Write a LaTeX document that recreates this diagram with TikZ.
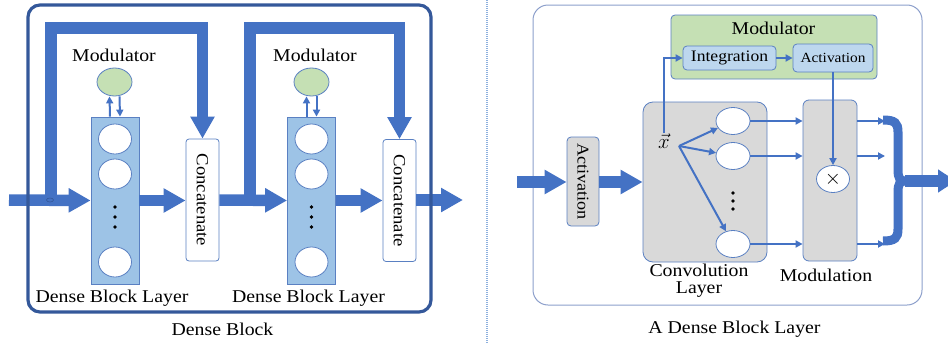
\documentclass[tikz,border=0pt]{standalone}
\usepackage{fontspec}
\setmainfont[FakeStretch=1.1]{Liberation Serif}
\usetikzlibrary{arrows.meta,shapes.geometric,calc}
\definecolor{mainblue}{HTML}{4472C4}
\definecolor{darkblue}{HTML}{34589A}
\definecolor{bdr}{HTML}{5A80C2}
\definecolor{lblue}{HTML}{9DC3E6}
\definecolor{mgreen}{HTML}{C5E0B4}
\definecolor{mgray}{HTML}{D9D9D9}
\definecolor{pblue}{HTML}{BDD7EE}
\definecolor{frametwo}{HTML}{8C9FCB}
\definecolor{divider}{HTML}{8DB0DE}
\begin{document}
\begin{tikzpicture}[x=1pt,y=-1pt,
  fat/.style={line width=11.5pt,draw=mainblue,line join=miter,-{Triangle[width=23pt,length=22pt]}},
  thinarr/.style={line width=2pt,draw=mainblue,-{Triangle[width=7pt,length=7pt]}},
  dbl/.style={rectangle,draw=bdr,fill=lblue,line width=0.8pt,minimum width=48pt,minimum height=167pt,inner sep=0pt},
  unit/.style={ellipse,draw=bdr,fill=white,line width=0.8pt,minimum width=33pt,minimum height=30pt,inner sep=0pt},
  cunit/.style={ellipse,draw=bdr,fill=white,line width=0.8pt,minimum width=34pt,minimum height=27pt,inner sep=0pt},
  modc/.style={ellipse,draw=bdr,fill=mgreen,line width=0.8pt,minimum width=35pt,minimum height=28pt,inner sep=0pt},
  concat/.style={rectangle,rounded corners=3pt,draw=bdr,fill=white,line width=0.8pt,minimum width=122pt,minimum height=33pt,inner sep=0pt,rotate=-90,font=\fontsize{17}{17}\selectfont},
  graybox/.style={rectangle,draw=bdr,fill=mgray,line width=0.8pt,inner sep=0pt},
  smallbox/.style={rectangle,rounded corners=4pt,draw=bdr,fill=pblue,line width=0.8pt,inner sep=0pt},
  lbl/.style={font=\fontsize{18}{18}\selectfont,inner sep=0pt,anchor=base}
]
\useasboundingbox (0,0) rectangle (948,343);
\clip (0,0) rectangle (948,343);

% ---------------- left panel ----------------
\coordinate (in1) at (9,200);
\coordinate (s1) at (51,200);
\coordinate (s2) at (250,200);
\coordinate (out1) at (463,200);

\node[dbl] (block1) at (115,200.5) {};
\node[unit] (b1u1) at (115,139) {};
\node[unit] (b1u2) at (115,174) {};
\node[unit] (b1u3) at (115,262) {};
\fill (115,207) circle (1.8) (115,217) circle (1.8) (115,227) circle (1.8);
\node[modc] (mod1) at (114.5,82) {};
\node[lbl] (mod1l) at (114,61) {Modulator};

\node[dbl] (block2) at (311.5,200.5) {};
\node[unit] (b2u1) at (311.5,139) {};
\node[unit] (b2u2) at (311.5,174) {};
\node[unit] (b2u3) at (311.5,262) {};
\fill (311.5,207) circle (1.8) (311.5,217) circle (1.8) (311.5,227) circle (1.8);
\node[modc] (mod2) at (311.5,82) {};
\node[lbl] (mod2l) at (315,61) {Modulator};

% rotated by -90: west = visual top, south = visual left, north = visual right
\node[concat] (concat1) at (202.5,200) {Concatenate};
\node[concat] (concat2) at (399.5,200.5) {Concatenate};

\draw[thinarr] ([xshift=-5pt]block1.north) -- ([xshift=-5pt]mod1.south);
\draw[thinarr] ([xshift=5pt]mod1.south) -- ([xshift=5pt]block1.north);
\draw[thinarr] ([xshift=-5pt]block2.north) -- ([xshift=-5pt]mod2.south);
\draw[thinarr] ([xshift=5pt]mod2.south) -- ([xshift=5pt]block2.north);

\draw[fat] (s1) -- (51,28) -- (202.5,28) -- (concat1.west);
\draw[fat] (s2) -- (250,28) -- (399.5,28) -- (concat2.west);

\draw[fat] (in1) -- (block1.west);
\draw[fat] (block1.east) -- (concat1.south |- block1.east);
\draw[fat] (concat1.north |- s2) -- (block2.west);
\draw[fat] (block2.east) -- (concat2.south |- block2.east);
\draw[fat] (concat2.north |- out1) -- (out1);

\node[ellipse,draw=darkblue,line width=0.6pt,minimum width=7pt,minimum height=4pt,inner sep=0pt] (junc) at (50,200) {};

\node[draw=darkblue,line width=3.2pt,rounded corners=12pt,minimum width=403pt,minimum height=307pt,inner sep=0pt] (frame1) at (229.5,158.5) {};

\node[lbl] (dbl1) at (112,302) {Dense Block Layer};
\node[lbl] (dbl2) at (308.5,302) {Dense Block Layer};
\node[lbl] (cap1) at (222.5,335) {Dense Block};

% divider
\coordinate (dvt) at (487,0);
\coordinate (dvb) at (487,343);
\draw[divider,line width=1.3pt,dash pattern=on 1pt off 1pt] (dvt) -- (dvb);

% ---------------- right panel ----------------
\node[draw=frametwo,line width=1pt,rounded corners=15pt,minimum width=389pt,minimum height=300pt,inner sep=0pt] (frame2) at (727.5,155) {};
\node[lbl] (cap2) at (734.5,333) {A Dense Block Layer};

\coordinate (in2) at (517,182);
\node[graybox,rounded corners=4pt,rotate=-90,minimum width=89pt,minimum height=32pt,font=\fontsize{16.5}{16.5}\selectfont] (act) at (583,181.5) {Activation};
\node[graybox,rounded corners=10pt,minimum width=124pt,minimum height=160pt] (conv) at (705,182) {};
\node[graybox,rounded corners=6pt,minimum width=54pt,minimum height=161pt] (modl) at (830,180.5) {};

\draw[fat] (in2) -- (act.south |- in2);
\draw[fat] (act.north |- in2) -- (conv.west |- in2);

\node[lbl] (convl1) at (699,276) {Convolution};
\node[lbl] (convl2) at (699,293) {Layer};
\node[lbl] (modll) at (826,281) {Modulation};

% modulator box
\node[rectangle,rounded corners=4pt,draw=bdr,fill=mgreen,line width=0.8pt,minimum width=206pt,minimum height=64pt,inner sep=0pt] (modbox) at (774,47) {};
\node[lbl] (modboxl) at (773.5,34) {Modulator};
\node[smallbox,minimum width=93pt,minimum height=24pt,font=\fontsize{16}{16}\selectfont] (integ) at (729.5,58) {Integration};
\node[smallbox,minimum width=80pt,minimum height=28pt,font=\fontsize{14}{14}\selectfont] (actsm) at (833,58) {Activation};
\draw[thinarr] (integ.east) -- (actsm.west |- integ.east);

% conv units
\node[cunit] (c1) at (733,121) {};
\node[cunit] (c2) at (733,156) {};
\node[cunit] (c4) at (733,244) {};
\fill (733,193) circle (1.8) (733,201) circle (1.8) (733,209) circle (1.8);

\node[inner sep=0pt,font=\fontsize{21}{21}\selectfont] (xv) at (664,141) {$\vec{x}$};
\coordinate (fan) at (679,146);
\draw[thinarr] (fan) -- (c1);
\draw[thinarr] (fan) -- (c2);
\draw[thinarr] (fan) -- (c4);
\draw[thinarr] (xv.north) |- (integ.west);

\draw[thinarr] (c1.east) -- (c1.east -| modl.west);
\draw[thinarr] (c2.east) -- (c2.east -| modl.west);
\draw[thinarr] (c4.east) -- (c4.east -| modl.west);

\node[ellipse,draw=bdr,fill=white,line width=0.8pt,minimum width=33pt,minimum height=27pt,inner sep=0pt,font=\fontsize{20}{20}\selectfont] (times) at (833,179) {$\times$};
\draw[thinarr] (actsm.south) -- (times.north);

\coordinate (o1) at (885,121);
\coordinate (o2) at (885,156);
\coordinate (o4) at (885,244);
\draw[thinarr] (c1.east -| modl.east) -- (o1);
\draw[thinarr] (c2.east -| modl.east) -- (o2);
\draw[thinarr] (c4.east -| modl.east) -- (o4);

% brace
\coordinate (bt) at (905,181);
\coordinate (bout) at (956,181);
\draw[mainblue,line width=9pt] (883,120) .. controls (895,120) and (898,123) .. (898,132) -- (898,170) .. controls (898,178) and (900,181) .. (bt);
\draw[mainblue,line width=9pt] (883,241) .. controls (895,241) and (898,238) .. (898,229) -- (898,192) .. controls (898,184) and (900,181) .. (bt);
\draw[line width=12pt,draw=mainblue,-{Triangle[width=22pt,length=18pt]}] (bt) -- (bout);
\end{tikzpicture}
\end{document}
